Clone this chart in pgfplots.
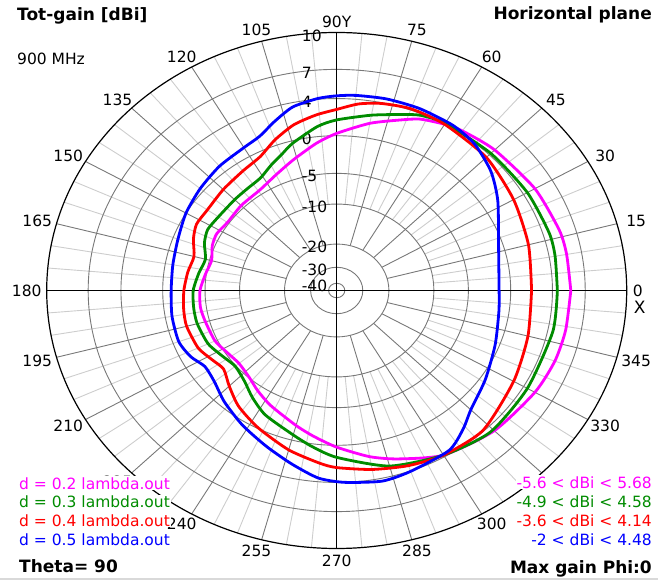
\documentclass[border=0pt]{standalone}
\usepackage{pgfplots}
\pgfplotsset{compat=1.18}
\usepackage{pgfplotstable}
\usepackage{fontspec}
\setmainfont{DejaVu Sans}

\definecolor{cMag}{RGB}{255,0,255}
\definecolor{cGrn}{RGB}{0,140,0}
\definecolor{cRed}{RGB}{255,0,0}
\definecolor{cBlu}{RGB}{0,0,255}
\definecolor{ringc}{RGB}{120,120,120}
\definecolor{spokec}{RGB}{205,205,205}

% total gain (dBi) in the horizontal plane, theta = 90; a = azimuth in degrees
% d = 0.2 lambda
\pgfplotstableread{
a g
0 5.68
10 5.62
17 5.55
30 5.2
45 4.7
55 4.3
60 4.0
66.6 3.44
71.7 2.67
80 1.61
90 0.25
97 -0.86
106.5 -2.47
115 -3.6
124 -4.4
135 -4.6
145 -4.8
152 -4.5
158 -4.7
165 -5.3
172 -4.9
180 -4.4
188 -4.3
195 -4.5
205 -4.7
213 -5.3
220 -5.6
228 -5.1
235 -4.3
243 -3.4
255 -2.0
262 -1.0
270 0.2
280 1.5
288 2.4
300 3.8
315 4.65
330 5.2
340 5.5
349 5.6
360 5.68
}\dA
% d = 0.3 lambda
\pgfplotstableread{
a g
0 4.45
10 4.55
17 4.58
30 4.4
45 4.2
60 4.1
67 3.83
72 3.25
80 2.5
90 1.7
96 1.08
105 -0.34
110 -1.4
115 -2.2
121 -3.1
128 -3.4
135 -3.5
145 -3.5
152 -3.3
158 -3.7
165 -4.5
172 -4.1
180 -3.6
188 -3.5
195 -3.5
205 -3.8
213 -4.5
220 -4.9
228 -4.3
235 -3.2
243 -2.0
255 -0.7
262 0.3
270 1.3
285 2.9
300 3.8
314 4.5
330 4.4
348 4.48
360 4.45
}\dB
% d = 0.4 lambda
\pgfplotstableread{
a g
0 2.0
15 2.35
30 2.9
45 3.6
60 4.0
70 4.14
78 3.92
84 3.53
90 2.83
96 2.33
103 1.64
110 0.6
117 -0.62
125 -1.2
135 -1.6
145 -1.9
152 -1.8
158 -2.3
165 -3.1
172 -2.8
180 -2.5
188 -2.3
195 -2.2
205 -2.5
212 -3.2
218 -3.6
225 -2.6
233 -1.3
243 -0.1
255 1.1
265 2.0
270 2.4
280 2.9
290 3.4
300 3.8
313 3.9
330 2.9
345 2.3
360 2.0
}\dC
% d = 0.5 lambda
\pgfplotstableread{
a g
0 -1.37
15 -0.75
32 1.53
41 2.9
50 3.9
58 4.3
68 4.45
77 4.48
85 4.4
90 4.28
95 4.08
102 3.54
108 2.5
114 1.5
120 1.1
130 0.8
140 0.4
150 0.0
160 -0.6
170 -0.9
180 -1.0
190 -0.8
200 -0.7
207 -1.2
213 -2.0
220 -1.7
228 -0.7
238 0.4
248 1.4
257 2.5
265 3.6
272 4.0
282 4.3
290 4.05
302 3.64
309 2.56
315 1.5
326 0.5
339 -0.5
352 -1.2
360 -1.37
}\dD

\newcommand{\lbl}{\fontsize{15.5}{18}\selectfont}
\newcommand{\bld}{\fontsize{17}{20}\selectfont\bfseries}

\begin{document}
\begin{tikzpicture}[x=1pt,y=1pt]
\useasboundingbox (-336.7,-294.5) rectangle (321.3,290.5);
\begin{axis}[
  at={(0,0)}, anchor=origin,
  width=580pt, height=516pt, scale only axis,
  xmin=-1, xmax=1, ymin=-1, ymax=1,
  hide axis, clip=false,
  % radial gain scale: dBi -> fraction of the 10 dBi ring
  declare function={rdb(\d)=0.335+0.0238*(\d+10)+0.0054*max(\d+5,0)+0.0068*max(\d,0)+0.00167*max(\d-4,0)+0.01*max(\d-7,0);},
  pattern/.style={line width=2.8pt, line join=round, smooth, tension=0.4},
]
% light 5 degree spokes
\pgfplotsinvokeforeach{5,10,20,25,35,40,50,55,65,70,80,85,95,100,110,115,125,130,140,145,155,160,170,175,185,190,200,205,215,220,230,235,245,250,260,265,275,280,290,295,305,310,320,325,335,340,350,355}{
  \draw[spokec, line width=0.9pt] (axis cs:{0.335*cos(#1)},{0.335*sin(#1)}) -- (axis cs:{cos(#1)},{sin(#1)});
}
% 15 degree spokes
\pgfplotsinvokeforeach{15,30,45,60,75,105,120,135,150,165,195,210,225,240,255,285,300,315,330,345}{
  \draw[ringc, line width=0.9pt] (axis cs:{0.18*cos(#1)},{0.18*sin(#1)}) -- (axis cs:{cos(#1)},{sin(#1)});
}
% gain rings: -40, -30, -20, -10, -5, 0, 4, 7 dBi
\pgfplotsinvokeforeach{0.028,0.09,0.18,0.335,0.454,0.6,0.744,0.857}{
  \draw[ringc, line width=0.9pt] (axis cs:0,0) ellipse [x radius=#1, y radius=#1];
}
\draw[black, line width=1.2pt] (axis cs:0,0) ellipse [x radius=1, y radius=1];
\draw[black, line width=1.2pt] (axis cs:-1,0) -- (axis cs:1,0);
\draw[black, line width=1.2pt] (axis cs:0,-1) -- (axis cs:0,1);

% angle labels
\pgfplotsinvokeforeach{15,30,45,60,75,105,120,135,150,165,180,195,210,225,240,255,270,285,300,315,330,345}{
  \node[inner sep=0pt, font=\lbl, xshift={20*cos(#1)}, yshift={12*sin(#1)}] at (axis cs:{cos(#1)},{sin(#1)}) {#1};
}
\node[inner sep=0pt, font=\lbl, anchor=west, xshift=6pt] at (axis cs:1,0) {0};
\node[inner sep=0pt, font=\fontsize{17}{20}\selectfont, anchor=north west, xshift=7pt, yshift=-10pt] at (axis cs:1,0) {X};
\node[inner sep=0pt, font=\lbl, anchor=south, yshift=5pt] at (axis cs:0,1) {90Y};

% gain ring labels (value / ring radius)
\pgfplotsinvokeforeach{10/1,7/0.857,4/0.744,0/0.6,-5/0.454,-10/0.335,-20/0.18,-30/0.09,-40/0.028}{
  \pgfplotsextra{\foreach \v/\rr in {#1}{
    \node[inner sep=0pt, font=\lbl, anchor=west, xshift=-35pt, yshift=-3pt] at (axis cs:0,\rr) {\v};
  }}
}

\addplot[cMag, pattern] table[x expr={rdb(\thisrow{g})*cos(\thisrow{a})}, y expr={rdb(\thisrow{g})*sin(\thisrow{a})}]{\dA};
\addplot[cGrn, pattern] table[x expr={rdb(\thisrow{g})*cos(\thisrow{a})}, y expr={rdb(\thisrow{g})*sin(\thisrow{a})}]{\dB};
\addplot[cRed, pattern] table[x expr={rdb(\thisrow{g})*cos(\thisrow{a})}, y expr={rdb(\thisrow{g})*sin(\thisrow{a})}]{\dC};
\addplot[cBlu, pattern] table[x expr={rdb(\thisrow{g})*cos(\thisrow{a})}, y expr={rdb(\thisrow{g})*sin(\thisrow{a})}]{\dD};
\end{axis}

% titles and legend
\node[anchor=base west, inner sep=0pt, font=\bld] at (-319.7,269.5) {Tot-gain [dBi]};
\node[anchor=base west, inner sep=0pt, font=\lbl] at (-319.7,225.5) {900 MHz};
\node[anchor=base east, inner sep=0pt, font=\bld] at (315.3,270.5) {Horizontal plane};

\node[anchor=base west, inner sep=1pt, fill=white, text=cMag, font=\lbl] at (-318.7,-198.5) {d = 0.2 lambda.out};
\node[anchor=base west, inner sep=1pt, fill=white, text=cGrn, font=\lbl] at (-318.7,-217) {d = 0.3 lambda.out};
\node[anchor=base west, inner sep=1pt, fill=white, text=cRed, font=\lbl] at (-318.7,-235.5) {d = 0.4 lambda.out};
\node[anchor=base west, inner sep=1pt, fill=white, text=cBlu, font=\lbl] at (-318.7,-254.5) {d = 0.5 lambda.out};
\node[anchor=base west, inner sep=1pt, fill=white, font=\bld] at (-318.7,-281.5) {Theta= 90};

\node[anchor=base east, inner sep=1pt, fill=white, text=cMag, font=\lbl] at (316.3,-197.5) {-5.6 < dBi < 5.68};
\node[anchor=base east, inner sep=1pt, fill=white, text=cGrn, font=\lbl] at (316.3,-216.5) {-4.9 < dBi < 4.58};
\node[anchor=base east, inner sep=1pt, fill=white, text=cRed, font=\lbl] at (316.3,-235.5) {-3.6 < dBi < 4.14};
\node[anchor=base east, inner sep=1pt, fill=white, text=cBlu, font=\lbl] at (316.3,-254.5) {-2 < dBi < 4.48};
\node[anchor=base east, inner sep=1pt, fill=white, font=\bld] at (316.3,-282.5) {Max gain Phi:0};

\draw[black!15, line width=2pt] (-336.7,-288.5) -- (321.3,-288.5);
\end{tikzpicture}
\end{document}
